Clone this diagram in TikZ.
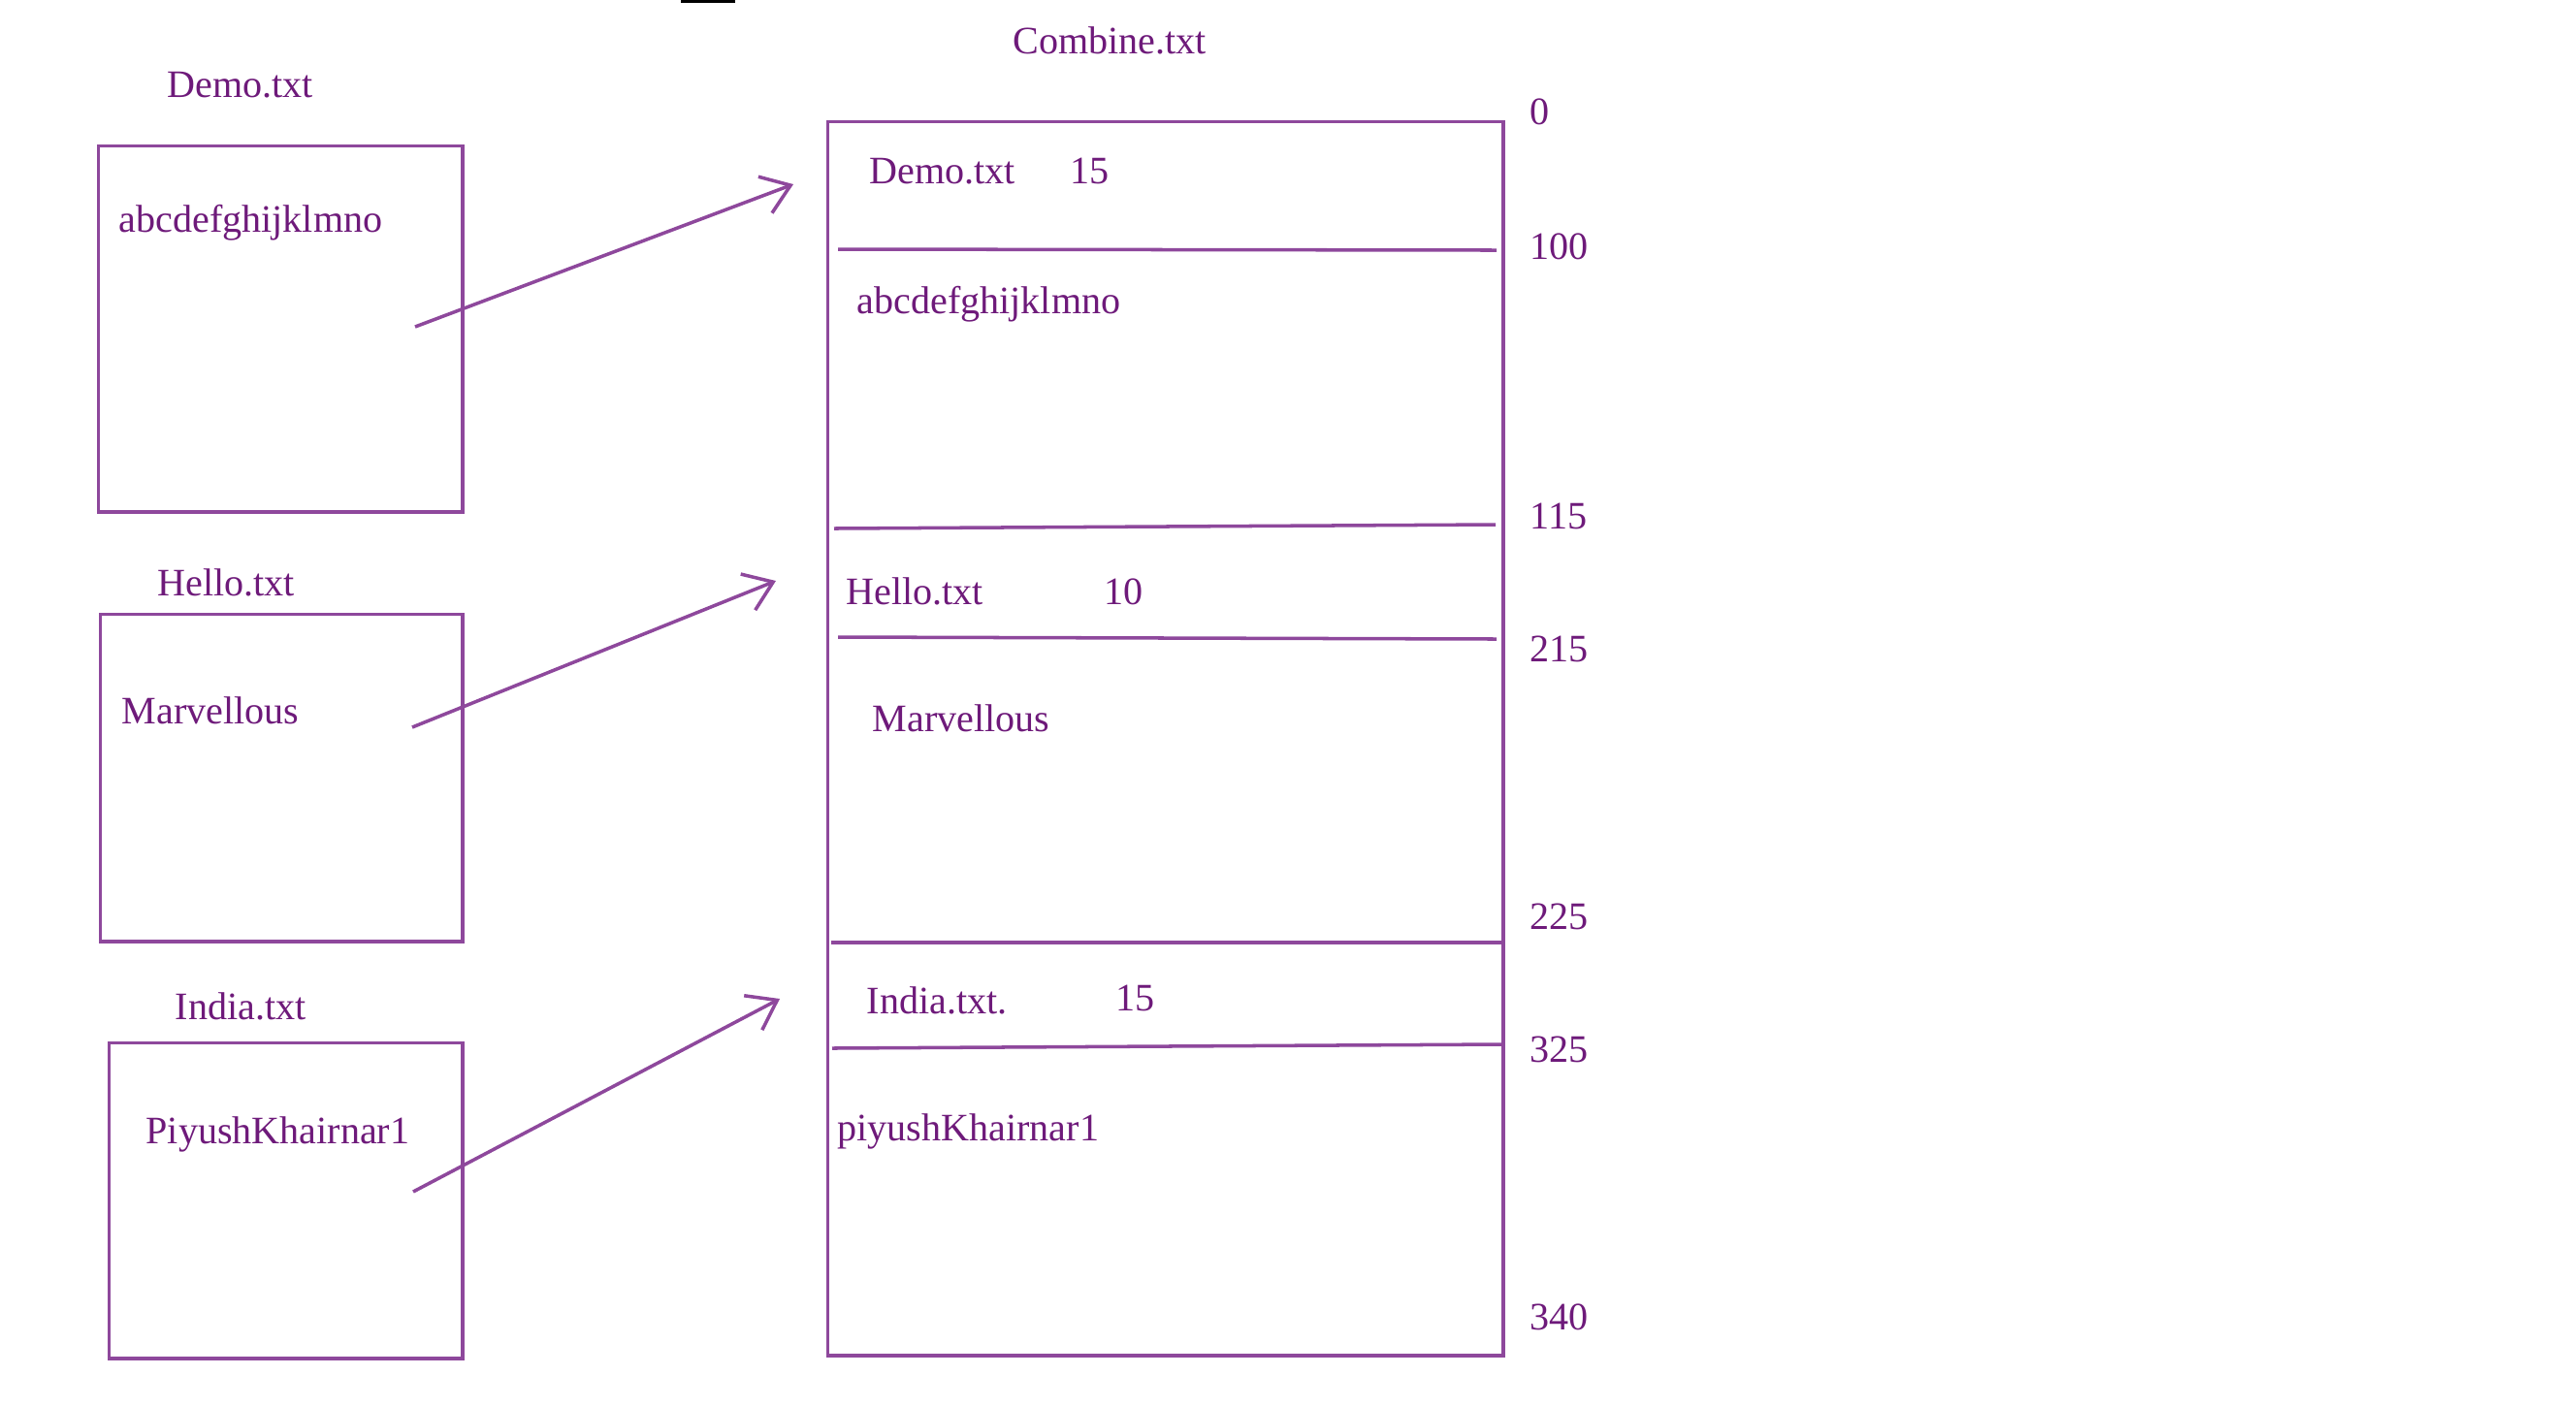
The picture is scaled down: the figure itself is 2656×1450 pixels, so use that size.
\documentclass[tikz,border=0pt]{standalone}
\usepackage{fontspec}
\setmainfont{Liberation Serif}
\usepackage{tikz}
\usetikzlibrary{positioning, arrows.meta}

\definecolor{boxline}{RGB}{142,72,156}
\definecolor{boxtext}{RGB}{110,26,122}

\tikzset{
  filebox/.style={draw=boxline, line width=1.1pt, inner sep=0pt, anchor=north west},
  txt/.style={text=boxtext, inner sep=0pt, anchor=base west, font=\fontsize{11.4pt}{13pt}\selectfont},
  sepline/.style={draw=boxline, line width=1pt},
  arr/.style={draw=boxline, line width=1pt, -{Straight Barb[length=2.8mm,width=4mm]}}
}

\begin{document}
\begin{tikzpicture}[x=0.01cm, y=-0.01cm]
    \useasboundingbox (0,0) rectangle (2656,1450);
    \fill[black] (702,0) rectangle (758,3);

    % 元のファイル
    \node[filebox, minimum width=3.75cm, minimum height=3.77cm] (demo) at (99.5,148.5) {};
    \node[filebox, minimum width=3.73cm, minimum height=3.37cm] (hello) at (101.5,631.5) {};
    \node[filebox, minimum width=3.64cm, minimum height=3.25cm] (india) at (110.5,1073.5) {};

    \node[txt] (demo-name) at (172,100) {Demo.txt};
    \node[txt] (demo-data) at (122,239) {abcdefghijklmno};
    \node[txt] (hello-name) at (162,614) {Hello.txt};
    \node[txt] (hello-data) at (125,746) {Marvellous};
    \node[txt] (india-name) at (180,1051) {India.txt};
    \node[txt] (india-data) at (150,1179) {PiyushKhairnar1};

    % 結合後のファイル
    \node[filebox, minimum width=6.96cm, minimum height=12.72cm] (combine) at (851.5,123.5) {};
    \node[txt] (combine-name) at (1044,55) {Combine.txt};

    % 区切り線
    \draw[sepline] (864,257) -- (1543,258);
    \draw[sepline] (860,545) -- (1542,541);
    \draw[sepline] (864,657) -- (1543,659);
    \draw[sepline] (857,972) -- (1548,972);
    \draw[sepline] (858,1081) -- (1548,1077);

    % 中身
    \node[txt] (c-demo) at (896,189) {Demo.txt};
    \node[txt] (c-demo-len) at (1103,189) {15};
    \node[txt] (c-demo-data) at (883,323) {abcdefghijklmno};
    \node[txt] (c-hello) at (872,623) {Hello.txt};
    \node[txt] (c-hello-len) at (1138,623) {10};
    \node[txt] (c-hello-data) at (899,754) {Marvellous};
    \node[txt] (c-india) at (893,1045) {India.txt.};
    \node[txt] (c-india-len) at (1150,1042) {15};
    \node[txt] (c-india-data) at (863,1176) {piyushKhairnar1};

    % オフセット
    \node[txt] (off0) at (1577,128) {0};
    \node[txt] (off100) at (1577,267) {100};
    \node[txt] (off115) at (1577,545) {115};
    \node[txt] (off215) at (1577,682) {215};
    \node[txt] (off225) at (1577,958) {225};
    \node[txt] (off325) at (1577,1095) {325};
    \node[txt] (off340) at (1577,1371) {340};

    % 矢印
    \coordinate (demo-src) at (428,337);
    \coordinate (demo-dst) at (818,190);
    \coordinate (hello-src) at (425,750);
    \coordinate (hello-dst) at (800,599);
    \coordinate (india-src) at (426,1229);
    \coordinate (india-dst) at (804,1030);
    \draw[arr] (demo-src) -- (demo-dst);
    \draw[arr] (hello-src) -- (hello-dst);
    \draw[arr] (india-src) -- (india-dst);
\end{tikzpicture}
\end{document}
